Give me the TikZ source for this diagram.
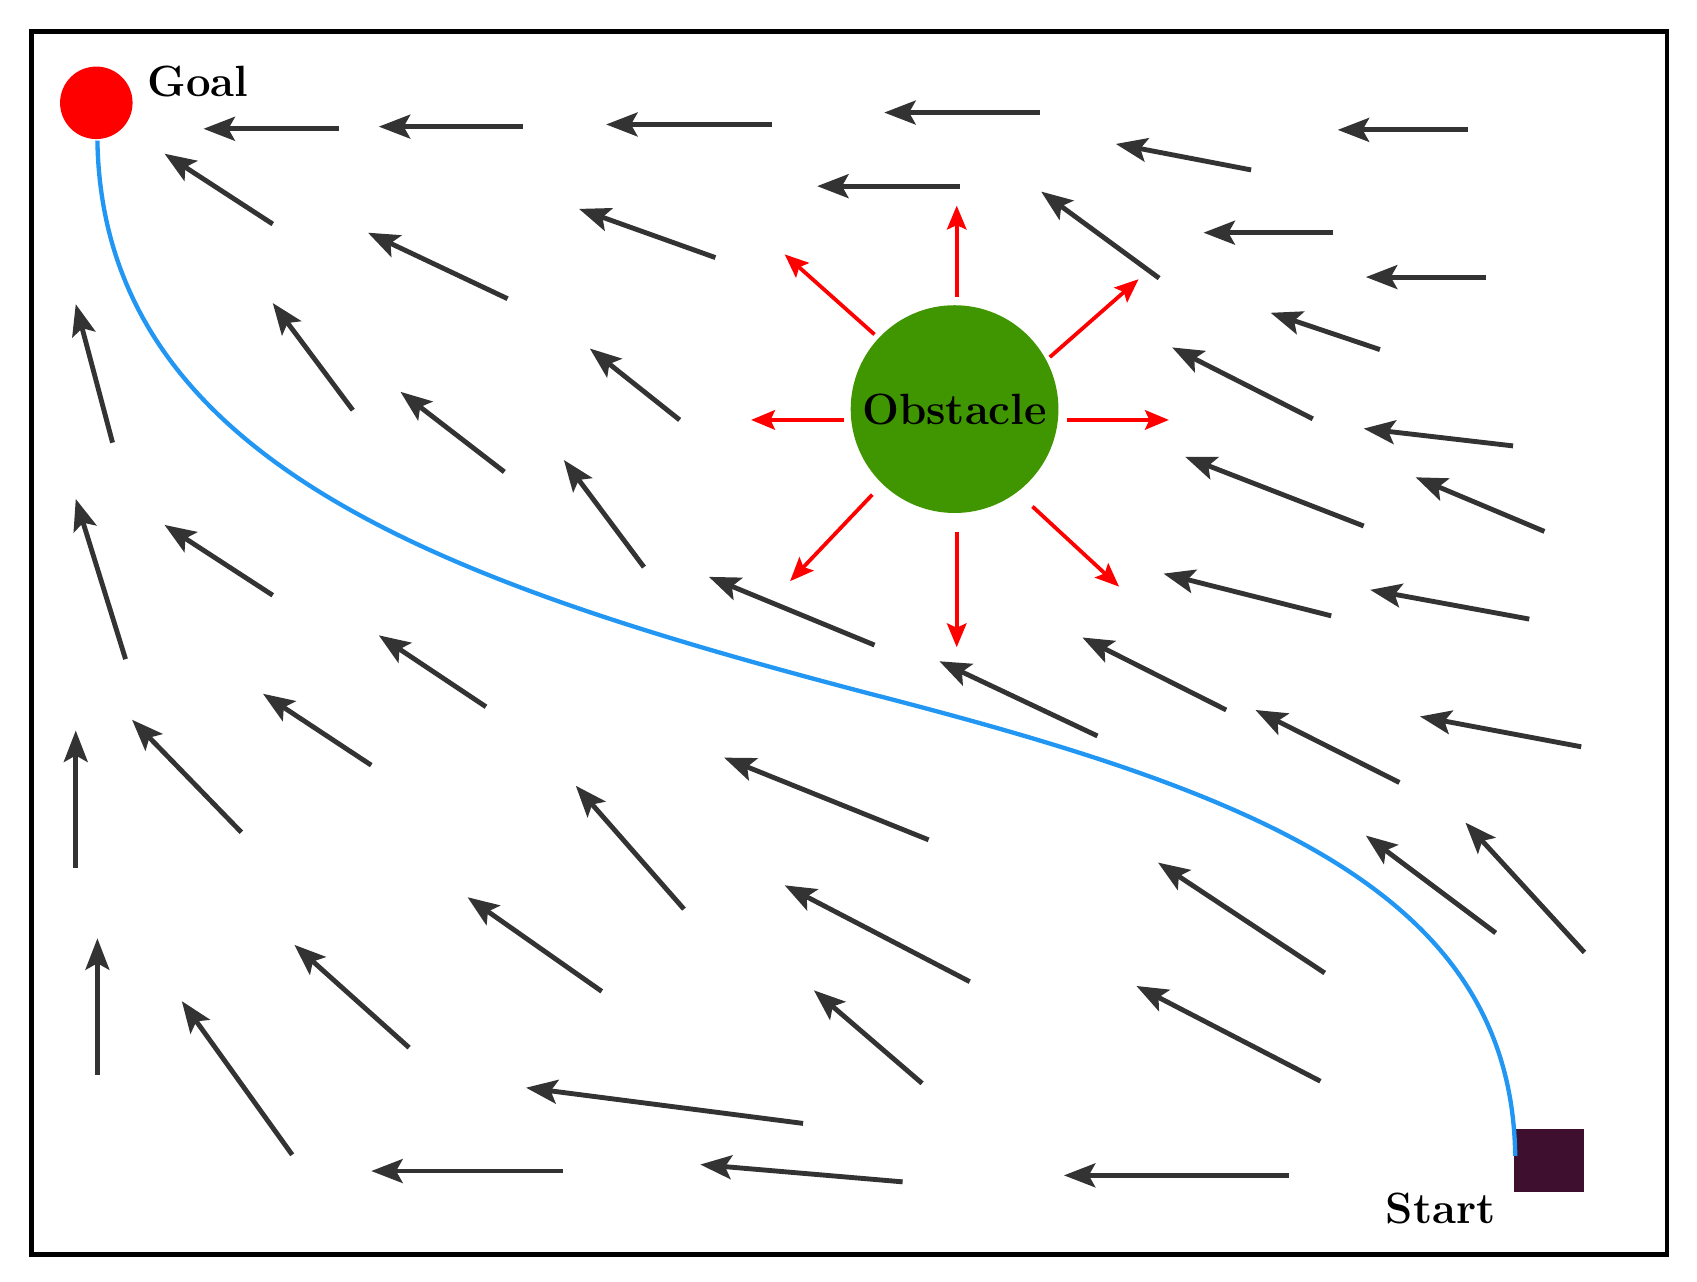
\documentclass[tikz,border=0pt]{standalone}
\usetikzlibrary{arrows.meta}
\begin{document}
\begin{tikzpicture}[x=0.02cm,y=-0.02cm,
  field/.style={draw=black!80,line width=0.09cm,-{Stealth[length=0.58cm,width=0.44cm,inset=0.12cm]}},
  rep/.style={draw=red,line width=0.07cm,-{Stealth[length=0.44cm,width=0.36cm,inset=0.08cm]}},
  lab/.style={font=\bfseries\fontsize{23}{28}\selectfont}]
\useasboundingbox (0,0) rectangle (1568,1184);
\draw[line width=0.08cm] (29,29) rectangle (1540,1159);
\foreach \a/\b/\c/\d in {313/119/188/119,483/117/350/117,713/115/560/115,961/104/817/104,1356/120/1236/120,
1156/157/1031/133,887/172/755/172,252/207/152/142,661/238/535/193,469/276/340/215,1071/257/962/177,
1232/215/1112/215,1373/256/1262/256,1275/323/1174/289,104/409/70/281,326/379/252/280,628/388/545/322,
466/436/370/362,1213/387/1083/321,1398/412/1260/396,1260/486/1095/422,1427/491/1308/441,595/524/521/425,
116/609/70/461,252/550/152/485,808/596/655/533,1230/569/1075/530,1413/572/1266/545,449/653/350/587,
1014/680/868/611,1133/656/1000/589,1293/723/1160/656,1461/690/1312/662,343/707/243/641,223/769/122/665,
70/802/70/675,858/776/669/700,632/840/532/726,1382/862/1262/772,1464/880/1354/760,1224/899/1070/797,
556/916/432/829,896/907/725/818,378/968/272/873,90/993/90/867,852/1001/752/915,1220/999/1050/911,
270/1067/168/925,742/1038/486/1005,520/1082/343/1082,834/1092/647/1076,1191/1086/983/1086}
  \draw[field] (\a,\b) -- (\c,\d);
\node[circle,fill={rgb,255:red,64;green,150;blue,0},minimum size=3.84cm,inner sep=0] (obs) at (882,378) {};
\node[lab] at (obs) {Obstacle};
\foreach \a/\b/\c/\d in {884/274/884/190,808/309/725/235,970/330/1052/258,780/388/694/388,
986/388/1080/388,806/457/730/537,954/468/1034/542,884/492/884/598}
  \draw[rep] (\a,\b) -- (\c,\d);
\node[circle,fill=red,minimum size=1.34cm,inner sep=0] (goal) at (89,95) {};
\node[lab] (gl) at (183,75) {Goal};
\node[fill={rgb,255:red,63;green,15;blue,47},minimum width=1.3cm,minimum height=1.16cm,inner sep=0] (start) at (1431.5,1072) {};
\node[lab] (sl) at (1331,1117) {Start};
\coordinate (p0) at (1400,1068);
\coordinate (p1) at (800,640);
\coordinate (p2) at (90,130);
\draw[line width=0.08cm,color={rgb,255:red,33;green,150;blue,243}] (p0) .. controls (1397,820) and (1150,730) .. (p1) .. controls (420,540) and (95,430) .. (p2);
\end{tikzpicture}
\end{document}
